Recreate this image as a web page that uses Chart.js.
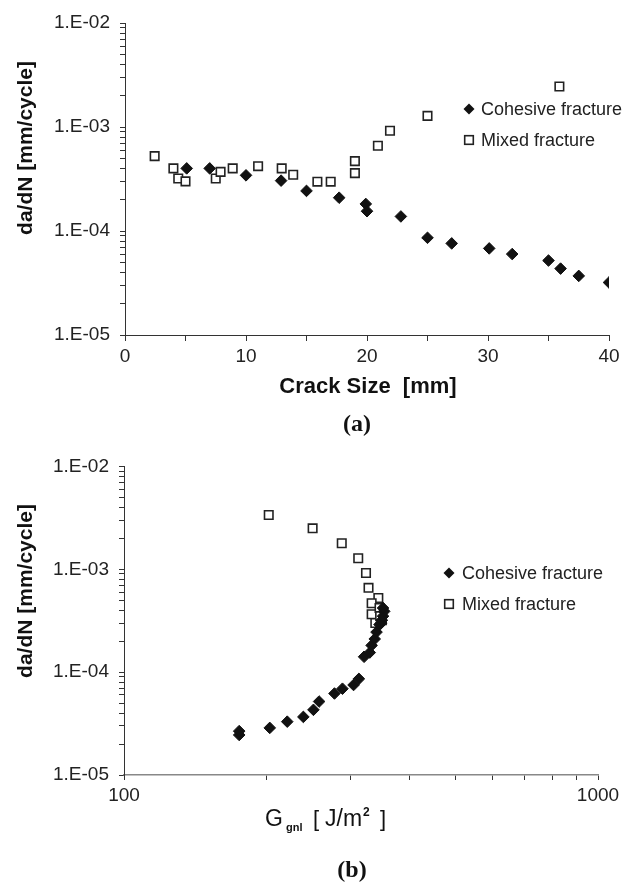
<!DOCTYPE html>
<html><head><meta charset="utf-8">
<script src="https://cdn.jsdelivr.net/npm/chart.js@4/dist/chart.umd.min.js"></script>
<style>
html,body{margin:0;padding:0;background:#fff;width:628px;height:890px;overflow:hidden}
canvas{display:block;position:absolute;left:0}
#c1{top:0}#c2{top:445px}
</style></head>
<body>
<canvas id="c1" width="628" height="445"></canvas>
<canvas id="c2" width="628" height="445"></canvas>
<script>
// ---- Data: chart (a) ----
const crackCohesive = [5.1, 7.0, 10.0, 12.9, 15.0, 17.7, 19.9, 20.0, 22.8, 25.0, 27.0, 30.1, 32.0, 35.0, 36.0, 37.5, 40.0];
const rateCohesiveA = [4.0e-4, 4.0e-4, 3.43e-4, 3.05e-4, 2.43e-4, 2.09e-4, 1.82e-4, 1.55e-4, 1.38e-4, 8.6e-5, 7.6e-5, 6.8e-5, 6.0e-5, 5.2e-5, 4.35e-5, 3.7e-5, 3.2e-5];
const crackMixed = [2.45, 4.0, 4.4, 5.0, 7.5, 7.9, 8.9, 11.0, 12.95, 13.9, 15.9, 17.0, 19.0, 19.0, 20.9, 21.9, 25.0, 35.9];
const rateMixedA = [5.25e-4, 4.0e-4, 3.2e-4, 3.0e-4, 3.2e-4, 3.7e-4, 4.0e-4, 4.2e-4, 4.0e-4, 3.47e-4, 2.98e-4, 2.98e-4, 4.7e-4, 3.6e-4, 6.6e-4, 9.2e-4, 1.28e-3, 2.45e-3];
// ---- Data: chart (b) ----
const gCohesive = [175, 175, 203, 221, 239, 251, 258, 278, 289, 305, 313, 321, 330, 333, 338, 341, 346, 349, 350, 352, 354, 352];
const rateCohesiveB = [2.45e-5, 2.67e-5, 2.87e-5, 3.3e-5, 3.67e-5, 4.3e-5, 5.18e-5, 6.2e-5, 6.9e-5, 7.5e-5, 8.6e-5, 1.41e-4, 1.55e-4, 1.82e-4, 2.1e-4, 2.45e-4, 2.9e-4, 3.0e-4, 3.2e-4, 3.5e-4, 3.9e-4, 4.2e-4];
const gMixed = [202, 250, 288, 312, 324, 328, 344, 333, 333, 339, 348, 350, 346, 347];
const rateMixedB = [3.37e-3, 2.5e-3, 1.79e-3, 1.28e-3, 9.2e-4, 6.6e-4, 5.25e-4, 4.68e-4, 3.65e-4, 3.0e-4, 4.0e-4, 3.2e-4, 4.2e-4, 3.5e-4];
// ---- Ticks ----
const xTicksA = [0, 5, 10, 15, 20, 25, 30, 35, 40];
const xLabelsA = [0, 10, 20, 30, 40];
const yDecades = [1e-5, 1e-4, 1e-3, 1e-2];
const minorMultipliers = [1, 2, 3, 4, 5, 6, 7, 8, 9];
const xTicksB = [100, 200, 300, 400, 500, 600, 700, 800, 900, 1000];
const xLabelsB = [100, 1000];
const seriesNames = ['Cohesive fracture', 'Mixed fracture'];

const yTickValues = [];
yDecades.forEach((d, i) => {
  if (i === yDecades.length - 1) { yTickValues.push(d); return; }
  minorMultipliers.forEach(m => yTickValues.push(+(m * d).toPrecision(6)));
});

function isDecade(v) { const l = Math.log10(v); return Math.abs(l - Math.round(l)) < 1e-6; }
function fmtExp(v) { const e = Math.round(Math.log10(v)); return '1.E' + (e < 0 ? '-' : '+') + String(Math.abs(e)).padStart(2, '0'); }
function pairs(xs, ys) { return xs.map((x, i) => ({x: x, y: ys[i]})); }

const FONT = 'Liberation Sans, Arial, sans-serif';
const tickFont = {family: FONT, size: 19};

function drawDiamond(ctx, x, y, r) {
  ctx.beginPath(); ctx.moveTo(x, y - r); ctx.lineTo(x + r, y); ctx.lineTo(x, y + r); ctx.lineTo(x - r, y); ctx.closePath();
  ctx.fillStyle = '#111'; ctx.fill();
}
function drawSquare(ctx, x, y, h) {
  ctx.fillStyle = '#fff'; ctx.fillRect(x - h, y - h, 2 * h, 2 * h);
  ctx.lineWidth = 1.6; ctx.strokeStyle = '#222'; ctx.strokeRect(x - h, y - h, 2 * h, 2 * h);
}

function textPlugin(items, legend) {
  return {
    id: 'texts',
    afterDraw(chart) {
      const ctx = chart.ctx;
      ctx.save();
      ctx.fillStyle = '#111';
      items.forEach(it => {
        ctx.save();
        ctx.font = it.font;
        ctx.textAlign = it.align || 'center';
        ctx.textBaseline = it.baseline || 'middle';
        ctx.translate(it.x, it.y);
        if (it.rot) ctx.rotate(it.rot);
        ctx.fillText(it.text, 0, 0);
        ctx.restore();
      });
      // legend
      const ds = chart.data.datasets;
      ds.forEach((d, i) => {
        const y = legend.y + i * legend.dy;
        if (d.pointStyle === 'rectRot') drawDiamond(ctx, legend.x, y, 5.5);
        else drawSquare(ctx, legend.x, y, 4.3);
        ctx.fillStyle = '#222';
        ctx.font = '18px ' + FONT;
        ctx.textAlign = 'left'; ctx.textBaseline = 'middle';
        ctx.fillText(d.label, legend.tx, y + 1);
      });
      ctx.restore();
    }
  };
}

function makeDatasets(c, m) {
  return [
    {label: seriesNames[0], data: c, pointStyle: 'rectRot', pointRadius: 5.8, backgroundColor: '#111', borderColor: '#111', borderWidth: 1, showLine: false},
    {label: seriesNames[1], data: m, pointStyle: 'rect', pointRadius: 6, backgroundColor: '#fff', borderColor: '#222', borderWidth: 1.6, showLine: false}
  ];
}

function yScale(width) {
  return {
    type: 'logarithmic', min: 1e-5, max: 1e-2,
    afterBuildTicks: s => { s.ticks = yTickValues.map(v => ({value: v})); },
    afterFit: s => { s.width = width; },
    ticks: {callback: v => isDecade(v) ? fmtExp(v) : '', font: tickFont, color: '#222', padding: 10, autoSkip: false, maxRotation: 0},
    grid: {drawOnChartArea: false, drawTicks: true, tickLength: 5, color: '#333', lineWidth: 1},
    border: {display: true, color: '#333', width: 1}
  };
}

const common = {
  responsive: false, animation: false, devicePixelRatio: 1, events: [],
  plugins: {legend: {display: false}, tooltip: {enabled: false}, title: {display: false}}
};

// ---- Chart (a) ----
new Chart(document.getElementById('c1'), {
  type: 'scatter',
  data: {datasets: makeDatasets(pairs(crackCohesive, rateCohesiveA), pairs(crackMixed, rateMixedA))},
  options: Object.assign({}, common, {
    layout: {padding: {top: 23, right: 19, left: 0, bottom: 0}},
    scales: {
      x: {
        type: 'linear', min: 0, max: 40,
        afterBuildTicks: s => { s.ticks = xTicksA.map(v => ({value: v})); },
        afterFit: s => { s.height = 110; },
        ticks: {callback: v => xLabelsA.includes(v) ? String(v) : '', font: tickFont, color: '#222', padding: 4, autoSkip: false, maxRotation: 0},
        grid: {drawOnChartArea: false, drawTicks: true, tickLength: 6, color: '#333'},
        border: {display: true, color: '#333', width: 1}
      },
      y: yScale(125)
    }
  }),
  plugins: [textPlugin([
    {text: 'da/dN [mm/cycle]', font: 'bold 21px ' + FONT, x: 26, y: 148, rot: -Math.PI / 2},
    {text: 'Crack Size  [mm]', font: 'bold 22px ' + FONT, x: 368, y: 387},
    {text: '(a)', font: 'bold 24px Liberation Serif, Times New Roman, serif', x: 357, y: 425}
  ], {x: 469, y: 109, dy: 31, tx: 481})]
});

// ---- Chart (b) ----
new Chart(document.getElementById('c2'), {
  type: 'scatter',
  data: {datasets: makeDatasets(pairs(gCohesive, rateCohesiveB), pairs(gMixed, rateMixedB))},
  options: Object.assign({}, common, {
    layout: {padding: {top: 15, right: 30, left: 0, bottom: 0}},
    scales: {
      x: {
        type: 'logarithmic', min: 100, max: 1000,
        afterBuildTicks: s => { s.ticks = xTicksB.map(v => ({value: v})); },
        afterFit: s => { s.height = 115; },
        ticks: {callback: v => xLabelsB.includes(v) ? String(v) : '', font: tickFont, color: '#222', padding: 4, autoSkip: false, maxRotation: 0},
        grid: {drawOnChartArea: false, drawTicks: true, tickLength: 5, color: '#333'},
        border: {display: true, color: '#888', width: 1.5}
      },
      y: yScale(124)
    }
  }),
  plugins: [textPlugin([
    {text: 'da/dN [mm/cycle]', font: 'bold 21px ' + FONT, x: 26, y: 146, rot: -Math.PI / 2},
    {text: 'G', font: '23px ' + FONT, x: 265, y: 381, align: 'left', baseline: 'alphabetic'},
    {text: 'gnl', font: 'bold 11px ' + FONT, x: 286, y: 386, align: 'left', baseline: 'alphabetic'},
    {text: '[', font: '22px ' + FONT, x: 313, y: 381, align: 'left', baseline: 'alphabetic'},
    {text: 'J/m', font: '23px ' + FONT, x: 325, y: 381, align: 'left', baseline: 'alphabetic'},
    {text: '2', font: 'bold 12px ' + FONT, x: 363, y: 371, align: 'left', baseline: 'alphabetic'},
    {text: ']', font: '22px ' + FONT, x: 380, y: 381, align: 'left', baseline: 'alphabetic'},
    {text: '(b)', font: 'bold 24px Liberation Serif, Times New Roman, serif', x: 352, y: 426}
  ], {x: 449, y: 128, dy: 31, tx: 462})]
});
</script>
</body></html>
